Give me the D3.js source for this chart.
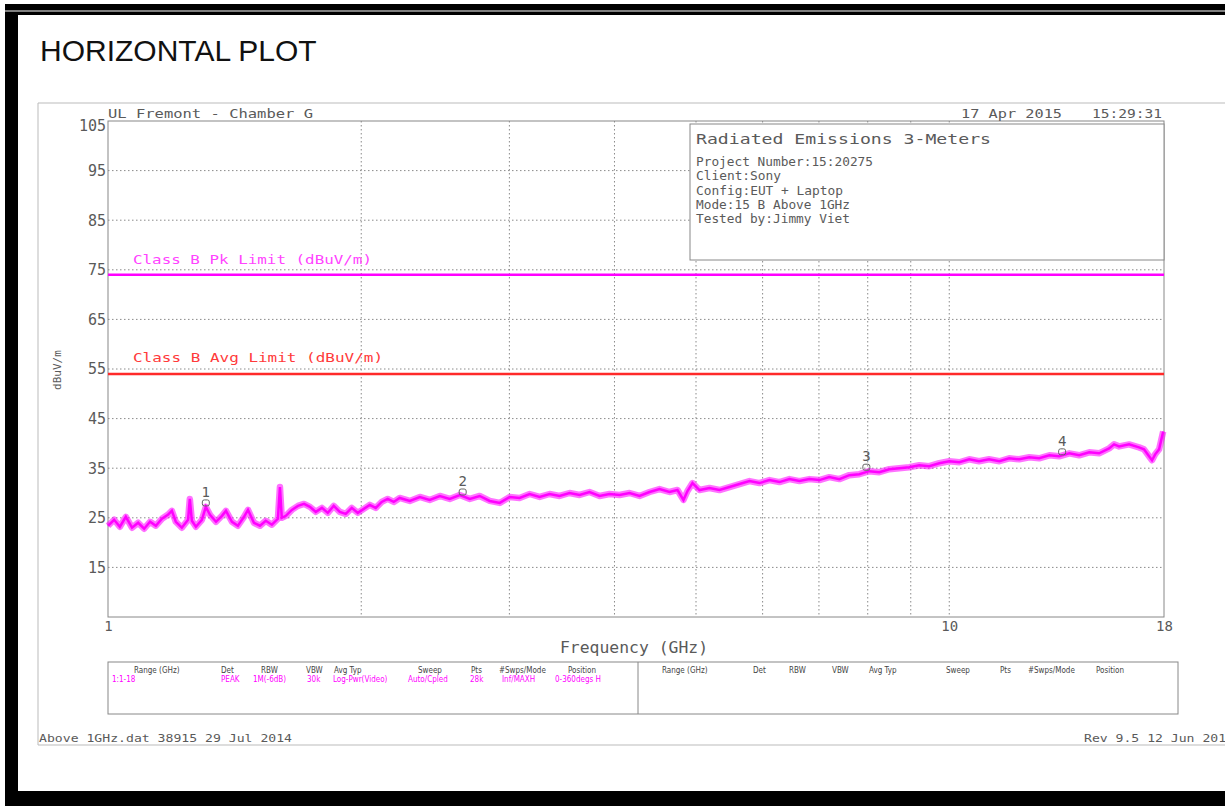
<!DOCTYPE html>
<html>
<head>
<meta charset="utf-8">
<script src="https://cdn.jsdelivr.net/npm/d3@7"></script>
<style>
  body { margin: 0; background: #fff; }
  svg { display: block; }
  .plt { font-family: "DejaVu Sans Mono", monospace; fill: #5a5a5a; }
  .tbl { font-family: "DejaVu Sans Condensed", "DejaVu Sans", sans-serif; font-size: 8px; }
</style>
</head>
<body>
<div id="chart"></div>
<script>
// ---- data ----
var yTicks = [15, 25, 35, 45, 55, 65, 75, 85, 95, 105];
var xGridFreqs = [2, 3, 4, 5, 6, 7, 8, 9, 10];
var xTickLabels = [1, 10, 18];
var pkLimit = 74, avgLimit = 54;

var traceFreqs = [1.000, 1.017, 1.033, 1.050, 1.068, 1.086, 1.104, 1.122, 1.140, 1.159,
  1.178, 1.191, 1.204, 1.224, 1.245, 1.251, 1.258, 1.272, 1.293, 1.307,
  1.322, 1.344, 1.366, 1.381, 1.404, 1.427, 1.451, 1.467, 1.491, 1.516,
  1.540, 1.566, 1.592, 1.601, 1.609, 1.627, 1.654, 1.682, 1.710, 1.738,
  1.766, 1.796, 1.825, 1.855, 1.886, 1.917, 1.949, 1.981, 2.014, 2.047,
  2.081, 2.115, 2.150, 2.186, 2.222, 2.284, 2.348, 2.412, 2.480, 2.548,
  2.619, 2.692, 2.766, 2.843, 2.922, 3.002, 3.085, 3.171, 3.259, 3.349,
  3.442, 3.537, 3.636, 3.736, 3.840, 3.946, 4.056, 4.169, 4.284, 4.403,
  4.525, 4.650, 4.753, 4.831, 4.885, 4.952, 5.048, 5.188, 5.332, 5.480,
  5.632, 5.788, 5.948, 6.113, 6.283, 6.457, 6.636, 6.819, 7.008, 7.202,
  7.402, 7.607, 7.817, 8.034, 8.257, 8.486, 8.721, 8.963, 9.212, 9.467,
  9.730, 10.00, 10.28, 10.56, 10.85, 11.15, 11.47, 11.78, 12.11, 12.45,
  12.79, 13.15, 13.51, 13.89, 14.27, 14.67, 15.07, 15.49, 15.70, 15.92,
  16.36, 16.81, 17.04, 17.28, 17.42, 17.57, 17.76, 17.96];

var traceLevels = [23.4, 24.6, 23.2, 25.2, 23.0, 24.0, 22.8, 24.2, 23.4, 24.8,
  25.6, 26.4, 24.2, 23.0, 24.6, 28.8, 24.4, 23.2, 24.6, 27.2,
  25.6, 24.2, 25.4, 26.4, 24.2, 23.4, 25.2, 26.6, 24.0, 23.4,
  24.4, 23.6, 24.8, 31.2, 25.0, 25.4, 26.6, 27.4, 27.8, 27.2,
  26.2, 27.0, 26.0, 27.4, 26.2, 25.8, 27.0, 26.0, 26.8, 27.6,
  27.0, 28.2, 28.8, 28.2, 29.0, 28.4, 29.2, 28.6, 29.4, 28.8,
  29.6, 28.8, 29.4, 28.4, 28.0, 29.2, 29.0, 29.8, 29.2, 29.8,
  29.4, 30.0, 29.6, 30.2, 29.4, 29.8, 29.6, 30.0, 29.4, 30.2,
  30.8, 30.2, 30.6, 28.6, 30.4, 32.0, 30.6, 31.0, 30.6, 31.2,
  31.8, 32.4, 32.0, 32.6, 32.2, 32.8, 32.4, 32.8, 32.6, 33.2,
  32.8, 33.6, 33.8, 34.4, 34.2, 34.8, 35.0, 35.2, 35.6, 35.4,
  36.0, 36.4, 36.2, 36.8, 36.4, 36.8, 36.4, 37.0, 36.8, 37.2,
  37.0, 37.6, 37.4, 38.0, 37.6, 38.2, 38.0, 39.0, 39.8, 39.4,
  39.8, 39.2, 38.8, 37.4, 36.6, 37.8, 38.8, 42.4];

var markerFreqs = [1.307, 2.64, 7.97, 13.62];
var markerLevels = [28.0, 30.2, 35.2, 38.3];
var markerLabels = ["1", "2", "3", "4"];

var infoTitle = "Radiated Emissions 3-Meters";
var infoLines = ["Project Number:15:20275", "Client:Sony", "Config:EUT + Laptop",
  "Mode:15 B Above 1GHz", "Tested by:Jimmy Viet"];

var tableHeaders = ["Range (GHz)", "Det", "RBW", "VBW", "Avg Typ", "Sweep", "Pts", "#Swps/Mode", "Position"];
var tableValues = ["1:1-18", "PEAK", "1M(-6dB)", "30k", "Log-Pwr(Video)", "Auto/Cpled", "28k", "Inf/MAXH", "0-360degs H"];

// ---- layout ----
var W = 1225, H = 806;
var plot = { left: 108, right: 1164, top: 121, bottom: 617 };

var svg = d3.select("#chart").append("svg")
  .attr("width", W)
  .attr("height", H);

// black outer frame
svg.append("rect").attr("x", 5).attr("y", 4).attr("width", W).attr("height", H).attr("fill", "#000");
svg.append("rect").attr("x", 18).attr("y", 15).attr("width", W).attr("height", 776).attr("fill", "#fff");
svg.append("line").attr("x1", 5).attr("x2", W).attr("y1", 11).attr("y2", 11)
  .attr("stroke", "#aaa").attr("stroke-width", 1.5);

svg.append("text")
  .attr("x", 40).attr("y", 61)
  .attr("font-family", "Liberation Sans, Arial, sans-serif")
  .attr("font-size", 30)
  .attr("fill", "#111")
  .text("HORIZONTAL PLOT");

// light grey panel
svg.append("path")
  .attr("d", "M" + W + ",103H38V745H" + W)
  .attr("fill", "none").attr("stroke", "#bbb").attr("stroke-width", 1);

var x = d3.scaleLog().domain([1, 18]).range([plot.left, plot.right]);
var y = d3.scaleLinear().domain([5, 105]).range([plot.bottom, plot.top]);

// grid
var grid = svg.append("g").attr("class", "grid");
grid.selectAll(".hgrid")
  .data(yTicks.filter(function (d) { return d < 105; }))
  .enter().append("line")
    .attr("x1", plot.left).attr("x2", plot.right)
    .attr("y1", function (d) { return y(d); })
    .attr("y2", function (d) { return y(d); });
grid.selectAll(".vgrid")
  .data(xGridFreqs)
  .enter().append("line")
    .attr("x1", function (d) { return x(d); })
    .attr("x2", function (d) { return x(d); })
    .attr("y1", plot.top).attr("y2", plot.bottom);
grid.selectAll("line")
  .attr("stroke", "#8a8a8a").attr("stroke-width", 1).attr("stroke-dasharray", "1.5,2.5");

// axes labels
var yAxis = svg.append("g")
  .attr("transform", "translate(" + plot.left + ",0)")
  .call(d3.axisLeft(y).tickValues(yTicks).tickSize(0).tickPadding(2));
yAxis.select(".domain").remove();
yAxis.selectAll("text").attr("class", "plt").attr("font-size", 15).attr("fill", "#555")
  .attr("dy", function (d) { return d === 105 ? "0.6em" : "0.32em"; });

var xAxis = svg.append("g")
  .attr("transform", "translate(0," + plot.bottom + ")")
  .call(d3.axisBottom(x).tickValues(xTickLabels).tickFormat(d3.format("d")).tickSize(0).tickPadding(4));
xAxis.select(".domain").remove();
xAxis.selectAll("text").attr("class", "plt").attr("font-size", 14).attr("fill", "#555");

// plot frame
svg.append("rect")
  .attr("x", plot.left).attr("y", plot.top)
  .attr("width", plot.right - plot.left).attr("height", plot.bottom - plot.top)
  .attr("fill", "none").attr("stroke", "#888").attr("stroke-width", 1);

// header texts
svg.append("text").attr("class", "plt").attr("x", 108).attr("y", 118)
  .attr("font-size", 13).attr("textLength", 205).attr("lengthAdjust", "spacingAndGlyphs")
  .text("UL Fremont - Chamber G");
svg.append("text").attr("class", "plt").attr("x", 961).attr("y", 118)
  .attr("font-size", 13).attr("textLength", 101).attr("lengthAdjust", "spacingAndGlyphs")
  .text("17 Apr 2015");
svg.append("text").attr("class", "plt").attr("x", 1092).attr("y", 118)
  .attr("font-size", 13).attr("textLength", 70).attr("lengthAdjust", "spacingAndGlyphs")
  .text("15:29:31");

// y axis title
svg.append("text").attr("class", "plt")
  .attr("transform", "translate(61,370) rotate(-90)")
  .attr("text-anchor", "middle")
  .attr("font-size", 11)
  .text("dBuV/m");

// x axis title
svg.append("text").attr("class", "plt")
  .attr("x", 560).attr("y", 653)
  .attr("font-size", 15).attr("textLength", 148).attr("lengthAdjust", "spacingAndGlyphs")
  .text("Frequency (GHz)");

// limit lines
svg.append("line")
  .attr("x1", plot.left).attr("x2", plot.right)
  .attr("y1", y(pkLimit)).attr("y2", y(pkLimit))
  .attr("stroke", "#ff00ff").attr("stroke-width", 2.5);
svg.append("line")
  .attr("x1", plot.left).attr("x2", plot.right)
  .attr("y1", y(avgLimit)).attr("y2", y(avgLimit))
  .attr("stroke", "#ff2a2a").attr("stroke-width", 2.5);
svg.append("text").attr("class", "plt").attr("x", 133).attr("y", 264)
  .attr("font-size", 13).style("fill", "#ff44ff")
  .attr("textLength", 239).attr("lengthAdjust", "spacingAndGlyphs")
  .text("Class B Pk Limit (dBuV/m)");
svg.append("text").attr("class", "plt").attr("x", 133).attr("y", 362)
  .attr("font-size", 13).style("fill", "#ff3a3a")
  .attr("textLength", 250).attr("lengthAdjust", "spacingAndGlyphs")
  .text("Class B Avg Limit (dBuV/m)");

// trace: a soft wide stroke under a narrower one gives the noisy band look
var traceData = traceFreqs.map(function (f, i) { return { f: f, v: traceLevels[i] }; });
var line = d3.line()
  .x(function (d) { return x(d.f); })
  .y(function (d) { return y(d.v); });
svg.append("path")
  .datum(traceData)
  .attr("d", line)
  .attr("fill", "none")
  .attr("stroke", "#ff00ff")
  .attr("stroke-opacity", 0.55)
  .attr("stroke-width", 6.5)
  .attr("stroke-linejoin", "round");
svg.append("path")
  .datum(traceData)
  .attr("d", line)
  .attr("fill", "none")
  .attr("stroke", "#ff00ff")
  .attr("stroke-width", 2.5)
  .attr("stroke-linejoin", "miter");

// markers
var markers = svg.selectAll(".marker")
  .data(markerFreqs.map(function (f, i) { return { f: f, v: markerLevels[i], label: markerLabels[i] }; }))
  .enter().append("g")
    .attr("class", "marker")
    .attr("transform", function (d) { return "translate(" + x(d.f) + "," + y(d.v) + ")"; });
markers.append("rect")
  .attr("x", -3.5).attr("y", -3).attr("width", 7).attr("height", 6).attr("rx", 2)
  .attr("fill", "none").attr("stroke", "#666").attr("stroke-width", 1);
markers.append("text").attr("class", "plt")
  .attr("text-anchor", "middle")
  .attr("y", -6)
  .attr("font-size", 14)
  .text(function (d) { return d.label; });

// info box
svg.append("rect")
  .attr("x", 690).attr("y", 124).attr("width", 474).attr("height", 136)
  .attr("fill", "#fff").attr("stroke", "#888").attr("stroke-width", 1);
svg.append("text").attr("class", "plt").attr("x", 696).attr("y", 144)
  .attr("font-size", 14).attr("textLength", 295).attr("lengthAdjust", "spacingAndGlyphs")
  .text(infoTitle);
var infoLens = [177, 85, 147, 154, 154];
svg.selectAll(".info-line")
  .data(infoLines)
  .enter().append("text")
    .attr("class", "plt info-line")
    .attr("x", 696)
    .attr("y", function (d, i) { return 166 + i * 14.3; })
    .attr("font-size", 11.5)
    .attr("textLength", function (d, i) { return infoLens[i]; })
    .attr("lengthAdjust", "spacingAndGlyphs")
    .text(function (d) { return d; });

// bottom table
svg.append("rect")
  .attr("x", 108).attr("y", 662).attr("width", 1070).attr("height", 52)
  .attr("fill", "none").attr("stroke", "#888").attr("stroke-width", 1);
svg.append("line")
  .attr("x1", 638).attr("x2", 638).attr("y1", 662).attr("y2", 714)
  .attr("stroke", "#888").attr("stroke-width", 1);

var leftHeadX = [134, 221, 261, 306, 334, 418, 471, 499, 568];
var leftValX = [112, 221, 253, 307, 333, 408, 470, 502, 555];
var rightHeadX = [662, 753, 789, 832, 869, 946, 1000, 1028, 1096];
svg.selectAll(".lh").data(tableHeaders).enter().append("text")
  .attr("class", "tbl").attr("x", function (d, i) { return leftHeadX[i]; }).attr("y", 673)
  .attr("fill", "#444").text(function (d) { return d; });
svg.selectAll(".lv").data(tableValues).enter().append("text")
  .attr("class", "tbl").attr("x", function (d, i) { return leftValX[i]; }).attr("y", 682)
  .attr("fill", "#ff00ff").text(function (d) { return d; });
svg.selectAll(".rh").data(tableHeaders).enter().append("text")
  .attr("class", "tbl").attr("x", function (d, i) { return rightHeadX[i]; }).attr("y", 673)
  .attr("fill", "#444").text(function (d) { return d; });

// footer
svg.append("text").attr("class", "plt").attr("x", 39).attr("y", 742)
  .attr("font-size", 11).attr("textLength", 253).attr("lengthAdjust", "spacingAndGlyphs")
  .text("Above 1GHz.dat 38915 29 Jul 2014");
svg.append("text").attr("class", "plt").attr("x", 1084).attr("y", 742)
  .attr("font-size", 11).attr("textLength", 150).attr("lengthAdjust", "spacingAndGlyphs")
  .text("Rev 9.5 12 Jun 2013");
</script>
</body>
</html>
